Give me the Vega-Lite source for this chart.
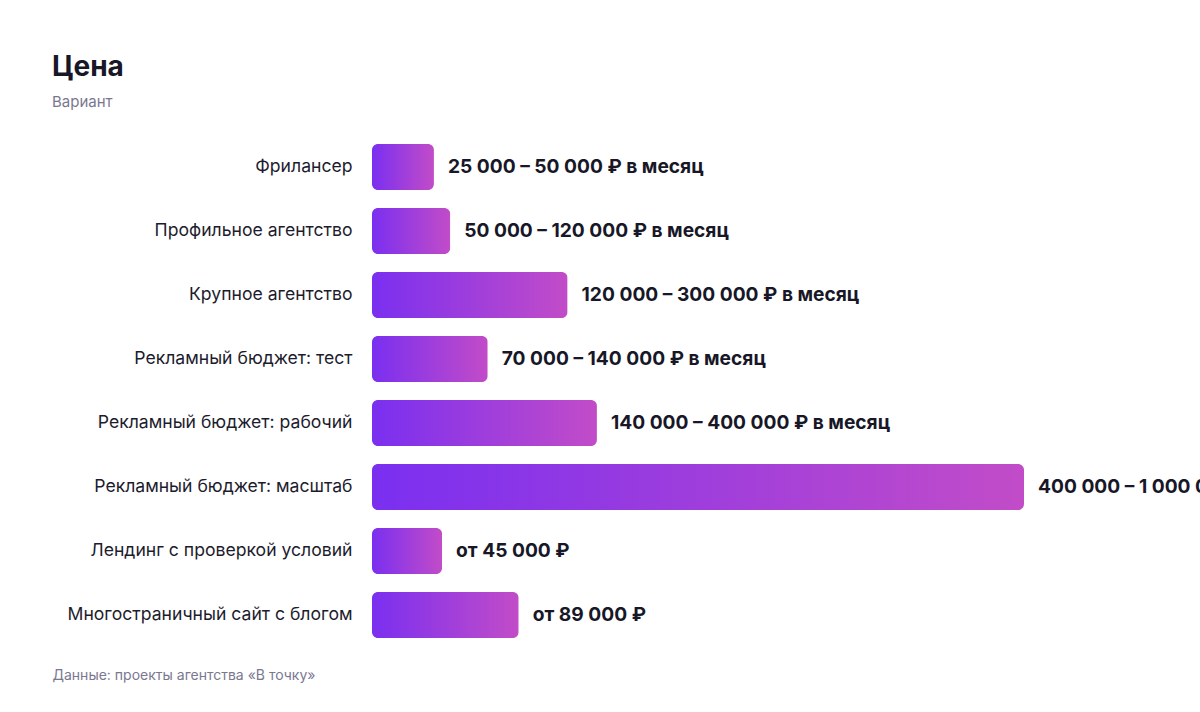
{
  "$schema": "https://vega.github.io/schema/vega-lite/v6.json",
  "autosize": "none",
  "padding": {"left": 372, "top": 135, "right": 176, "bottom": 65},
  "width": 652,
  "height": 512,
  "background": "white",
  "config": {
    "view": {"stroke": null},
    "font": "Inter"
  },
  "title": {
    "text": "Цена",
    "subtitle": "Вариант",
    "anchor": "start",
    "frame": "group",
    "dx": -320,
    "offset": 25,
    "fontSize": 28,
    "fontWeight": "bold",
    "color": "#171728",
    "subtitleFontSize": 15,
    "subtitleColor": "#7a7891",
    "subtitlePadding": 13
  },
  "data": {
    "values": [
      {"variant": "Фрилансер", "value": 38000, "label": "25 000 – 50 000 ₽ в месяц"},
      {"variant": "Профильное агентство", "value": 48000, "label": "50 000 – 120 000 ₽ в месяц"},
      {"variant": "Крупное агентство", "value": 120000, "label": "120 000 – 300 000 ₽ в месяц"},
      {"variant": "Рекламный бюджет: тест", "value": 71000, "label": "70 000 – 140 000 ₽ в месяц"},
      {"variant": "Рекламный бюджет: рабочий", "value": 138000, "label": "140 000 – 400 000 ₽ в месяц"},
      {"variant": "Рекламный бюджет: масштаб", "value": 400000, "label": "400 000 – 1 000 000 ₽ в месяц"},
      {"variant": "Лендинг с проверкой условий", "value": 43000, "label": "от 45 000 ₽"},
      {"variant": "Многостраничный сайт с блогом", "value": 90000, "label": "от 89 000 ₽"}
    ]
  },
  "encoding": {
    "y": {
      "field": "variant",
      "type": "nominal",
      "sort": null,
      "title": null,
      "scale": {"paddingInner": 0.28, "paddingOuter": 0.14},
      "axis": {
        "ticks": false,
        "domain": false,
        "labelPadding": 20,
        "labelLimit": 340,
        "labelFontSize": 17.6,
        "labelColor": "#1c1c2e"
      }
    },
    "x": {
      "field": "value",
      "type": "quantitative",
      "scale": {"domain": [0, 400000]},
      "axis": {
        "labels": false,
        "ticks": false,
        "domain": false,
        "grid": false,
        "title": "Данные: проекты агентства «В точку»",
        "titleAnchor": "start",
        "titleAlign": "left",
        "titleX": -320,
        "titleY": 28,
        "titleBaseline": "middle",
        "titleFontSize": 14,
        "titleFontWeight": "normal",
        "titleColor": "#7a7891"
      }
    }
  },
  "layer": [
    {
      "mark": {
        "type": "bar",
        "cornerRadius": 6,
        "color": {
          "gradient": "linear",
          "x1": 0, "y1": 0, "x2": 1, "y2": 0,
          "stops": [
            {"offset": 0, "color": "#7a2ff0"},
            {"offset": 1, "color": "#c24cc8"}
          ]
        }
      }
    },
    {
      "mark": {
        "type": "text",
        "align": "left",
        "baseline": "middle",
        "dx": 14,
        "fontSize": 19.2,
        "fontWeight": "bold",
        "color": "#171728"
      },
      "encoding": {"text": {"field": "label"}}
    }
  ]
}
